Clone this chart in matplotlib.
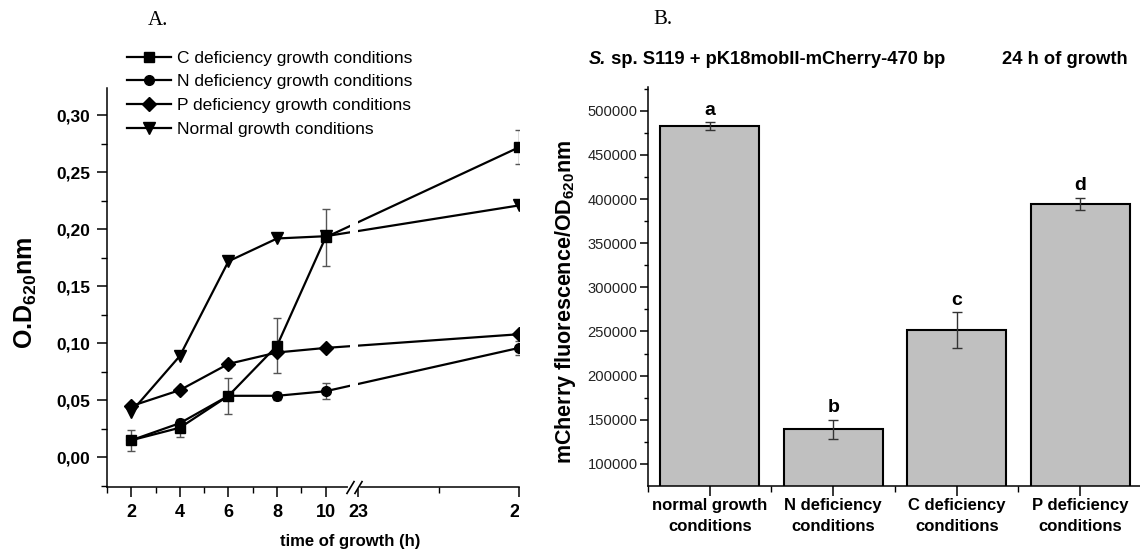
import numpy as np
import matplotlib
matplotlib.use("Agg")
import matplotlib.pyplot as plt
from matplotlib.ticker import FixedLocator, MultipleLocator, FuncFormatter
from matplotlib.transforms import Bbox, TransformedBbox

# ---------------- data ----------------
hours = [2, 4, 6, 8, 10, 24]
od_c = [0.015, 0.026, 0.054, 0.098, 0.193, 0.272]
od_c_err = [0.009, 0.008, 0.016, 0.024, 0.025, 0.015]
od_n = [0.015, 0.030, 0.054, 0.054, 0.058, 0.096]
od_n_err = [0.0, 0.0, 0.0, 0.0035, 0.007, 0.006]
od_p = [0.045, 0.059, 0.082, 0.092, 0.096, 0.108]
od_normal = [0.040, 0.089, 0.172, 0.192, 0.194, 0.221]
series_labels = ["C deficiency growth conditions", "N deficiency growth conditions",
                 "P deficiency growth conditions", "Normal growth conditions"]
hour_ticks = [2, 4, 6, 8, 10, 23, 24]
hour_tick_labels = ["2", "4", "6", "8", "10", "23", "24"]
od_ticks = [0.00, 0.05, 0.10, 0.15, 0.20, 0.25, 0.30]

conditions = ["normal growth\nconditions", "N deficiency\nconditions",
              "C deficiency\nconditions", "P deficiency\nconditions"]
fluor = [482500, 139300, 251700, 394700]
fluor_err = [4300, 10700, 20000, 6600]
letters = ["a", "b", "c", "d"]

# ---------------- style ----------------
plt.rcParams["font.family"] = ["Liberation Sans", "DejaVu Sans"]
plt.rcParams["mathtext.fontset"] = "custom"
plt.rcParams["mathtext.rm"] = "Liberation Sans"
plt.rcParams["mathtext.bf"] = "Liberation Sans:bold"
plt.rcParams["axes.linewidth"] = 1.1

W, H = 1140, 552
fig = plt.figure(figsize=(W / 100, H / 100), dpi=100)

def fx(px):
    return px / W

def fy(py):
    return 1 - py / H

# ---------------- panel A ----------------
ax1 = fig.add_axes([fx(107), fy(487), fx(519 - 107), (487 - 88) / H])

# broken time axis: piecewise-linear scale
knot_h = [0.0, 11.0, 23.0, 30.0]
knot_u = [82.6, 349.9, 358.0, 1485.0]

def fwd(x):
    return np.interp(x, knot_h, knot_u)

def inv(u):
    return np.interp(u, knot_u, knot_h)

ax1.set_xscale("function", functions=(fwd, inv))
ax1.set_xlim(1.0, 24.0)
ax1.set_ylim(-0.026, 0.324)

ecol = "#555555"
ax1.errorbar(hours, od_c, yerr=od_c_err, fmt="none", ecolor=ecol, elinewidth=1,
             capsize=3, capthick=1, zorder=1.5)
ax1.errorbar(hours, od_n, yerr=od_n_err, fmt="none", ecolor=ecol, elinewidth=1,
             capsize=3, capthick=1, zorder=1.5)

lkw = dict(color="black", lw=1.6, mfc="black", mec="black")
ax1.plot(hours, od_c, marker="s", ms=7, label=series_labels[0], **lkw)
ax1.plot(hours, od_n, marker="o", ms=7, label=series_labels[1], **lkw)
ax1.plot(hours, od_p, marker="D", ms=7, label=series_labels[2], **lkw)
ax1.plot(hours, od_normal, marker="v", ms=8, label=series_labels[3], **lkw)

# gap for the axis break
ax1.axvspan(11, 23, color="white", zorder=3, lw=0)
tr = ax1.get_xaxis_transform()
ax1.plot([11, 23], [0, 0], transform=tr, color="white", lw=3, clip_on=False, zorder=4)
ax1.plot([11, 23], [0, 0], transform=tr, ls="none", marker=[(-0.6, -1), (0.6, 1)],
         ms=9.5, mew=1.2, color="black", clip_on=False, zorder=5)

ax1.set_xticks(hour_ticks, hour_tick_labels, fontsize=13, fontweight="bold")
ax1.xaxis.set_minor_locator(FixedLocator([1, 3, 5, 7, 9, 23.5]))
ax1.set_yticks(od_ticks, [f"{v:.2f}".replace(".", ",") for v in od_ticks],
               fontsize=12.5, fontweight="bold")
ax1.yaxis.set_minor_locator(MultipleLocator(0.025))
ax1.tick_params(which="major", direction="out", length=7, width=1.1, pad=5)
ax1.tick_params(which="minor", direction="out", length=4, width=1.0)
for s in ("top", "right"):
    ax1.spines[s].set_visible(False)

ax1.set_xlabel("time of growth (h)", fontsize=12, fontweight="bold")
ax1.xaxis.set_label_coords(0.59, -0.118)
fig.text(fx(26), fy(293), r"O.D$_{\mathbf{620}}$nm", rotation=90, ha="center",
         va="center", fontsize=18, fontweight="bold")

# clip the last tick label as in the cropped original
clipbox = TransformedBbox(Bbox.from_extents(0, 0, 519 / W, 1), fig.transFigure)
lab = ax1.xaxis.get_major_ticks()[-1].label1
lab.set_clip_box(clipbox)
lab.set_clip_on(True)

ax1.legend(loc="upper left", bbox_to_anchor=(fx(127.4), fy(50.5)),
           bbox_transform=fig.transFigure, frameon=False, fontsize=12.5,
           borderpad=0, borderaxespad=0, handlelength=2.5, handletextpad=0.33,
           labelspacing=0.5, numpoints=1)

fig.text(fx(148), fy(20.7), "A.", family="Liberation Serif", fontsize=15,
         ha="left", va="center")

# ---------------- panel B ----------------
ax2 = fig.add_axes([fx(648), fy(485.7), fx(W - 648), (485.7 - 87.3) / H])
xpos = np.arange(len(conditions))
ax2.bar(xpos, fluor, width=0.8, color="#c0c0c0", edgecolor="black", linewidth=1.5,
        yerr=fluor_err,
        error_kw=dict(ecolor="#333333", elinewidth=1, capsize=3.5, capthick=1),
        zorder=2)
for i, (v, e, l) in enumerate(zip(fluor, fluor_err, letters)):
    ax2.annotate(l, (xpos[i], v + e), xytext=(0, 5.5), textcoords="offset points",
                 ha="center", va="baseline", fontsize=14, fontweight="bold")

ax2.set_xlim(-0.5, 3.484)
ax2.set_ylim(75400, 526500)
ax2.set_xticks(xpos, conditions, fontsize=12, fontweight="bold", linespacing=1.45)
ax2.xaxis.set_minor_locator(FixedLocator([-0.5, 0.5, 1.5, 2.5]))
ax2.yaxis.set_major_locator(MultipleLocator(50000))
ax2.yaxis.set_minor_locator(MultipleLocator(25000))
ax2.yaxis.set_major_formatter(FuncFormatter(lambda v, p: f"{int(round(v))}"))
ax2.tick_params(axis="y", which="major", direction="out", length=6, width=1.1,
                pad=1.5, labelsize=10.6, labelcolor="#222222")
ax2.tick_params(axis="y", which="minor", direction="out", length=3, width=1.0)
ax2.tick_params(axis="x", which="major", direction="out", length=7, width=1.1, pad=2)
ax2.tick_params(axis="x", which="minor", direction="out", length=4, width=1.0)
for s in ("top", "right"):
    ax2.spines[s].set_visible(False)

fig.text(fx(565), fy(301.5), r"mCherry fluorescence/OD$_{\mathbf{620}}$nm",
         rotation=90, ha="center", va="center", fontsize=15.5, fontweight="bold")

t1 = fig.text(fx(588.3), fy(59), "S.", fontsize=13.2, fontweight="bold",
              fontstyle="italic", ha="left", va="center")
ax2.annotate(" sp. S119 + pK18mobII-mCherry-470 bp", xy=(1, 0.5), xycoords=t1,
             ha="left", va="center", fontsize=13.2, fontweight="bold",
             annotation_clip=False)
fig.text(fx(1001.7), fy(59), "24 h of growth", fontsize=13.2, fontweight="bold",
         ha="left", va="center")
fig.text(fx(653), fy(20), "B.", family="Liberation Serif", fontsize=15,
         ha="left", va="center")

fig.savefig("out.png", dpi=100)
